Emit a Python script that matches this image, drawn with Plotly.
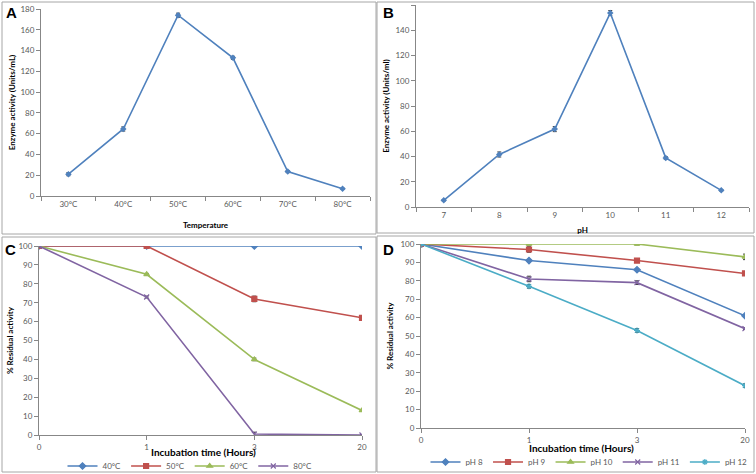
import plotly.graph_objects as go

# ---------------- data ----------------
temp_labels = ["30°C", "40°C", "50°C", "60°C", "70°C", "80°C"]
temp_activity = [21, 64.5, 174, 133, 23.5, 7]
temp_err = [1.5, 2, 2, 1.5, 1, 0.5]

ph_labels = ["7", "8", "9", "10", "11", "12"]
ph_activity = [5.3, 41.6, 61.7, 153.6, 38.9, 13.2]
ph_err = [0.5, 2, 2, 2, 1, 0.5]

time_labels = ["0", "1", "3", "20"]

temp_series_names = ["40°C", "50°C", "60°C", "80°C"]
temp_stab_40 = [100, 100, 100, 100]
temp_stab_50 = [100, 100, 72, 62]
temp_stab_60 = [100, 85, 40, 13]
temp_stab_80 = [100, 73, 0.5, 0]
temp_stab_err_50 = [0.5, 0.5, 1.5, 1]
temp_stab_err_60 = [0.5, 0.5, 0.7, 0.5]
temp_stab_err_80 = [0.5, 0.5, 1, 0.3]

ph_series_names = ["pH 8", "pH 9", "pH 10", "pH 11", "pH 12"]
ph_stab_8 = [100, 91, 86, 61]
ph_stab_9 = [100, 97, 91, 84]
ph_stab_10 = [100, 100, 100, 93]
ph_stab_11 = [100, 81, 79, 54]
ph_stab_12 = [100, 77, 53, 23]
ph_stab_err_8 = [0.5, 0.5, 0.5, 0.5]
ph_stab_err_9 = [1.5, 1.5, 0.5, 1]
ph_stab_err_10 = [0.5, 0.5, 0.5, 1.5]
ph_stab_err_11 = [0.5, 1.5, 1, 0.5]
ph_stab_err_12 = [0.5, 1, 1, 1]

# ---------------- style ----------------
W, H = 756, 474
BLUE, RED, GREEN, PURPLE, CYAN = "#4F81BD", "#C0504D", "#9BBB59", "#8064A2", "#4BACC6"
FONT = "Lato"
TICKC = "#595959"
AXC = "#878787"

def px_x(p):
    return p / W

def px_y(p):
    return 1 - p / H

fig = go.Figure()

def err(arr):
    return dict(type="data", array=arr, visible=True, color="#404040", thickness=1, width=2)

# Panel A
fig.add_trace(go.Scatter(x=temp_labels, y=temp_activity, error_y=err(temp_err),
                         mode="lines+markers", line=dict(color=BLUE, width=1.6),
                         marker=dict(symbol="diamond", size=5, color=BLUE),
                         xaxis="x", yaxis="y", showlegend=False))
# Panel B
fig.add_trace(go.Scatter(x=ph_labels, y=ph_activity, error_y=err(ph_err),
                         mode="lines+markers", line=dict(color=BLUE, width=1.6),
                         marker=dict(symbol="diamond", size=5, color=BLUE),
                         xaxis="x2", yaxis="y2", showlegend=False))

# Panel C
c_series = [
    (temp_series_names[0], temp_stab_40, [0, 0, 0, 0], BLUE, "diamond", 5),
    (temp_series_names[1], temp_stab_50, temp_stab_err_50, RED, "square", 5),
    (temp_series_names[2], temp_stab_60, temp_stab_err_60, GREEN, "triangle-up", 5),
    (temp_series_names[3], temp_stab_80, temp_stab_err_80, PURPLE, "x-thin-open", 5),
]
for name, ys, es, col, sym, sz in c_series:
    fig.add_trace(go.Scatter(x=time_labels, y=ys, name=name, error_y=err(es),
                             mode="lines+markers", line=dict(color=col, width=1.6),
                             marker=dict(symbol=sym, size=sz, color=col, line=dict(color=col, width=1.2)),
                             xaxis="x3", yaxis="y3", legend="legend"))

# Panel D
d_series = [
    (ph_series_names[0], ph_stab_8, ph_stab_err_8, BLUE, "diamond", 5),
    (ph_series_names[1], ph_stab_9, ph_stab_err_9, RED, "square", 5),
    (ph_series_names[2], ph_stab_10, ph_stab_err_10, GREEN, "triangle-up", 5),
    (ph_series_names[3], ph_stab_11, ph_stab_err_11, PURPLE, "x-thin-open", 5),
    (ph_series_names[4], ph_stab_12, ph_stab_err_12, CYAN, "asterisk-open", 5),
]
for name, ys, es, col, sym, sz in d_series:
    fig.add_trace(go.Scatter(x=time_labels, y=ys, name=name, error_y=err(es),
                             mode="lines+markers", line=dict(color=col, width=1.6),
                             marker=dict(symbol=sym, size=sz, color=col, line=dict(color=col, width=1.2)),
                             xaxis="x4", yaxis="y4", legend="legend2"))

tickfont = dict(family=FONT, size=8, color=TICKC)
titlefont = dict(family=FONT, size=8, color="#000000", weight="bold")

def xaxis(dom, anchor, title, tfs, standoff, rng, boundaries):
    d = dict(domain=dom, anchor=anchor, type="category", range=rng, automargin=False,
             showline=True, linecolor=AXC, linewidth=1, ticks="outside", tickcolor=AXC,
             ticklen=4, showgrid=False, zeroline=False, tickfont=tickfont,
             fixedrange=True)
    if title:
        d["title"] = dict(text=title, font=dict(family=FONT, size=tfs, color="#000", weight="bold"),
                          standoff=standoff)
    if boundaries:
        d["tickson"] = "boundaries"
    return d

def yaxis(dom, anchor, title, rng, dtick, standoff):
    return dict(domain=dom, anchor=anchor, range=rng, dtick=dtick, automargin=False,
                showline=True, linecolor=AXC, linewidth=1, ticks="outside", tickcolor=AXC,
                ticklen=4, showgrid=False, zeroline=False, tickfont=tickfont,
                title=dict(text=title, font=titlefont, standoff=standoff), fixedrange=True)

legfont = dict(family=FONT, size=8, color=TICKC)
layout = dict(
    width=W, height=H, margin=dict(l=0, r=0, t=0, b=0, autoexpand=False),
    paper_bgcolor="white", plot_bgcolor="white",
    font=dict(family=FONT),
    xaxis=xaxis([px_x(41), px_x(370)], "y", "Temperature", 8, 14, [-0.5, 5.5], True),
    yaxis=yaxis([px_y(196), px_y(9)], "x", "Enzyme activity (Units/mL)", [0, 180], 20, 3),
    xaxis2=xaxis([px_x(416), px_x(749)], "y2", "pH", 8, 8, [-0.5, 5.5], True),
    yaxis2=yaxis([px_y(207), px_y(5)], "x2", "Enzyme activity (Units/ml)", [0, 160], 20, 4),
    xaxis3=xaxis([px_x(39), px_x(362)], "y3", None, 10, 0, [0, 3], False),
    yaxis3=yaxis([px_y(435), px_y(246)], "x3", "% Residual activity", [0, 100], 10, 3),
    xaxis4=xaxis([px_x(421), px_x(745)], "y4", None, 10, 0, [0, 3], False),
    yaxis4=yaxis([px_y(428), px_y(244)], "x4", "% Residual activity", [0, 100], 10, 5),
    legend=dict(orientation="h", x=px_x(190), xanchor="center", y=px_y(466), yanchor="middle",
                font=legfont, bgcolor="rgba(0,0,0,0)", itemwidth=30, tracegroupgap=0),
    legend2=dict(orientation="h", x=px_x(589), xanchor="center", y=px_y(462), yanchor="middle",
                 font=legfont, bgcolor="rgba(0,0,0,0)", itemwidth=30, tracegroupgap=0),
)
fig.update_layout(**layout)

# x-axis titles of the lower panels (placed precisely)
for txt, x, y in [("Incubation time (Hours)", 203, 452), ("Incubation time (Hours)", 581, 448)]:
    fig.add_annotation(text=f"<b>{txt}</b>", xref="paper", yref="paper",
                       x=px_x(x), y=px_y(y), xanchor="center", yanchor="middle", showarrow=False,
                       font=dict(family=FONT, size=10, color="#000"))

# panel borders
boxes = [(2, 2, 376, 234), (377, 2, 754, 233), (2, 237, 376, 472), (377, 236, 754, 472)]
for x0, y0, x1, y1 in boxes:
    fig.add_shape(type="rect", xref="paper", yref="paper",
                  x0=px_x(x0), x1=px_x(x1), y0=px_y(y1), y1=px_y(y0),
                  line=dict(color="#A6A6A6", width=1), layer="below")

# panel letters
for txt, x, y in [("A", 4, 2), ("B", 381, 2), ("C", 3, 239), ("D", 381, 239)]:
    fig.add_annotation(text=f"<b>{txt}</b>", xref="paper", yref="paper",
                       x=px_x(x), y=px_y(y), xanchor="left", yanchor="top", showarrow=False,
                       font=dict(family="Liberation Sans", size=15, color="#000"))

fig.write_html("out.html", config={"displayModeBar": False},
               post_script="document.body.style.margin='0';document.body.style.overflow='hidden';")
